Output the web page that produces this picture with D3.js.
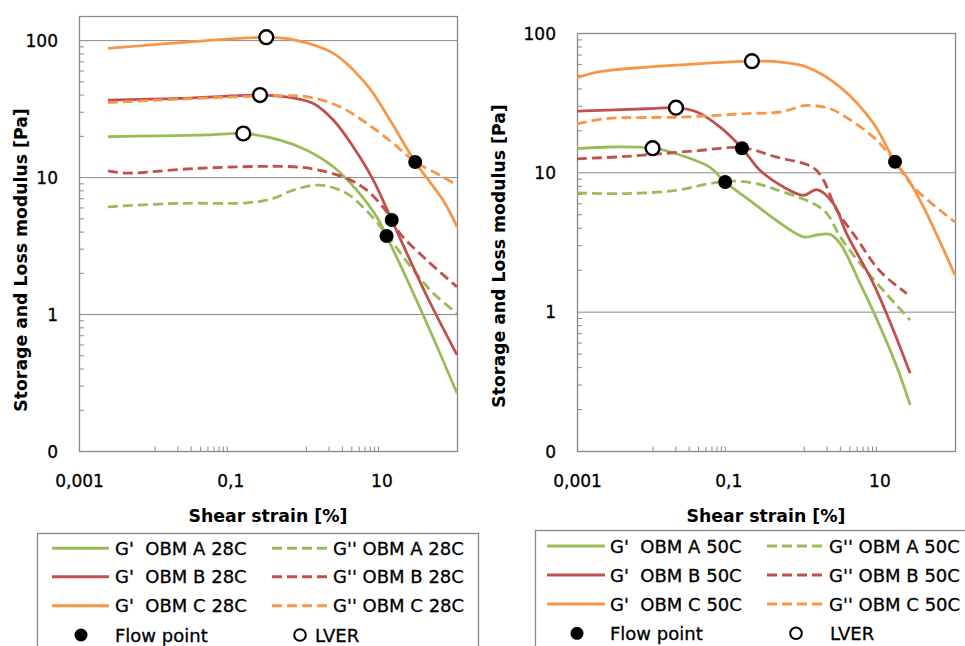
<!DOCTYPE html>
<html>
<head>
<meta charset="utf-8">
<script src="https://cdn.jsdelivr.net/npm/d3@7"></script>
<style>
  body { margin: 0; background: #fff; }
  svg { display: block; font-family: 'DejaVu Sans', sans-serif; }
  text { white-space: pre; }
  .lbl { stroke: #000; stroke-width: 0.3px; }
</style>
</head>
<body>
<svg id="chart" width="965" height="646"></svg>
<script>
// ---- axis ticks ----
const strainTicks = [0.001, 0.1, 10];
const strainTickLabels = ["0,001", "0,1", "10"];
const strainMinorTicks = [0.01, 0.02, 0.03, 0.04, 0.05, 0.06, 0.07, 0.08, 0.09, 1, 2, 3, 4, 5, 6, 7, 8, 9];
const modulusTicks = [0.1, 1, 10, 100];
const modulusTickLabels = ["0", "1", "10", "100"];
const modulusGridTicks = [1, 10, 100];
const modulusMinorTicks = [0.2, 0.3, 0.4, 0.5, 0.6, 0.7, 0.8, 0.9, 2, 3, 4, 5, 6, 7, 8, 9, 20, 30, 40, 50, 60, 70, 80, 90];

// ---- 28 C amplitude sweeps: [shear strain %, modulus Pa] ----
const storageA28 = [[0.00242, 19.7], [0.01, 20.0], [0.05, 20.3], [0.149, 20.8], [0.456, 18.6], [1.03, 15.7], [2.31, 11.9], [4.71, 8.04], [8.67, 5.13], [11.7, 3.71], [35.2, 1.0], [100, 0.264]];
const lossA28 = [[0.00242, 6.07], [0.0217, 6.43], [0.165, 6.49], [0.372, 6.99], [0.684, 8.04], [1.54, 8.74], [3.47, 7.6], [6.39, 5.65], [10.6, 4.10], [14.4, 3.28], [26.4, 2.10], [48.6, 1.42], [100, 1.01]];
const storageB28 = [[0.00242, 36.5], [0.0217, 37.5], [0.248, 39.7], [0.618, 38.2], [1.26, 34.5], [2.31, 26.1], [4.25, 16.6], [7.82, 9.51], [13.7, 4.86], [39.7, 1.36], [100, 0.503]];
const lossB28 = [[0.00242, 11.1], [0.00405, 10.7], [0.0398, 11.6], [0.684, 11.9], [1.54, 11.2], [3.47, 9.79], [6.39, 8.04], [11.7, 5.58], [17.6, 3.88], [39.7, 2.48], [100, 1.58]];
const storageC28 = [[0.00242, 86.9], [0.0398, 98.4], [0.307, 104.7], [0.678, 101], [2.29, 80.4], [6.45, 46.9], [13.0, 26.1], [28, 12.9], [65.3, 6.79], [100, 4.34]];
const lossC28 = [[0.00242, 35.0], [0.0217, 37.1], [0.298, 39.0], [1.03, 38.6], [2.83, 32.6], [6.39, 24.7], [14.4, 17.6], [28, 12.9], [59.6, 10.3], [100, 8.74]];
const flowPoints28 = [[11.7, 3.71], [13.7, 4.86], [28, 12.9]];
const lverPoints28 = [[0.149, 20.8], [0.248, 39.7], [0.30, 105]];
const seriesNames28 = ["G'  OBM A 28C", "G'' OBM A 28C", "G'  OBM B 28C", "G'' OBM B 28C", "G'  OBM C 28C", "G'' OBM C 28C"];

// ---- 50 C amplitude sweeps ----
const storageA50 = [[0.001, 14.8], [0.0027, 15.2], [0.01, 14.9], [0.0206, 13.6], [0.0567, 10.9], [0.0912, 8.52], [0.192, 6.30], [0.430, 4.53], [0.989, 3.44], [1.5, 3.55], [2.23, 3.59], [3.03, 3.08], [5.56, 1.59], [8.33, 1.0], [17.0, 0.402], [25.5, 0.214]];
const lossA50 = [[0.001, 7.11], [0.00449, 7.04], [0.0206, 7.43], [0.0567, 8.30], [0.115, 8.66], [0.234, 8.30], [0.430, 7.52], [1.34, 5.97], [2.02, 5.06], [3.03, 3.44], [5.56, 2.22], [10.2, 1.51], [25.5, 0.869]];
const storageB50 = [[0.001, 27.5], [0.00841, 28.6], [0.0204, 29.1], [0.0385, 27.1], [0.0783, 21.1], [0.152, 14.9], [0.265, 10.3], [0.538, 7.85], [0.989, 6.84], [1.49, 7.52], [2.47, 5.97], [3.71, 3.6], [8.33, 1.59], [15.3, 0.736], [25.5, 0.361]];
const lossB50 = [[0.001, 12.5], [0.00449, 13.0], [0.0341, 14.2], [0.152, 15.0], [0.430, 12.9], [1.34, 10.8], [1.82, 8.8], [2.74, 5.34], [5.02, 3.35], [10.2, 1.95], [23.0, 1.35]];
const storageC50 = [[0.001, 47.7], [0.00184, 52.4], [0.00841, 56.9], [0.0385, 60.1], [0.206, 62.8], [0.486, 61.8], [1.10, 56.9], [3.03, 40.9], [8.33, 22.5], [16.1, 11.9], [23.0, 9.25], [38.2, 5.64], [100, 1.83]];
const lossC50 = [[0.001, 22.3], [0.00249, 24.3], [0.0232, 24.9], [0.177, 26.4], [0.486, 27.1], [1.10, 30.2], [2.23, 28.6], [3.03, 26.4], [8.33, 17.9], [16.1, 11.9], [28.1, 7.85], [100, 4.40]];
const flowPoints50 = [[0.0912, 8.52], [0.152, 14.9], [16.1, 11.9]];
const lverPoints50 = [[0.01, 14.9], [0.0204, 29.1], [0.206, 62.8]];
const seriesNames50 = ["G'  OBM A 50C", "G'' OBM A 50C", "G'  OBM B 50C", "G'' OBM B 50C", "G'  OBM C 50C", "G'' OBM C 50C"];

const markerNames = ["Flow point", "LVER"];
const xTitle = "Shear strain [%]";
const yTitle = "Storage and Loss modulus [Pa]";

// ---- styling ----
const mudColors = ["#9BBB59", "#C0504D", "#F79646"];
const axisGray = "#898989";
const dashPattern = "10,5";

const svg = d3.select("#chart");

function drawPanel(cfg) {
  const g = svg.append("g");
  const x = d3.scaleLog().domain([0.001, 100]).range([cfg.x0, cfg.x1]);
  const y = d3.scaleLog().domain([0.1, cfg.yMax]).range([cfg.y0, cfg.y1]);
  const w = cfg.x1 - cfg.x0;

  // major gridlines
  g.append("g")
    .attr("transform", `translate(${cfg.x0},0)`)
    .call(d3.axisLeft(y).tickValues(modulusGridTicks).tickSize(-w).tickFormat(""))
    .call(a => { a.select(".domain").remove(); a.selectAll("line").attr("stroke", axisGray); });

  // minor ticks (inside)
  g.append("g")
    .attr("transform", `translate(${cfg.x0},0)`)
    .call(d3.axisLeft(y).tickValues(modulusMinorTicks.filter(v => v < cfg.yMax)).tickSize(-5).tickFormat(""))
    .call(a => { a.select(".domain").remove(); a.selectAll("line").attr("stroke", axisGray); });
  g.append("g")
    .attr("transform", `translate(0,${cfg.y0})`)
    .call(d3.axisBottom(x).tickValues(strainMinorTicks).tickSize(-4.5).tickFormat(""))
    .call(a => { a.select(".domain").remove(); a.selectAll("line").attr("stroke", axisGray); });

  // plot frame
  g.append("rect")
    .attr("x", cfg.x0 + 0.5).attr("y", cfg.y1 + 0.5)
    .attr("width", w).attr("height", cfg.y0 - cfg.y1)
    .attr("fill", "none").attr("stroke", axisGray).attr("stroke-width", 1.3);

  // tick labels
  g.append("g")
    .attr("transform", `translate(${cfg.x0},0)`)
    .call(d3.axisLeft(y).tickValues(modulusTicks).tickSize(0).tickPadding(21)
      .tickFormat((d, i) => modulusTickLabels[i]))
    .call(a => {
      a.select(".domain").remove();
      a.selectAll("text").attr("class", "lbl").attr("font-family", "'DejaVu Sans', sans-serif").attr("font-size", 17).attr("fill", "#000").attr("dy", "0.36em");
    });
  g.append("g")
    .attr("transform", `translate(0,${cfg.y0})`)
    .call(d3.axisBottom(x).tickValues(strainTicks).tickSize(0).tickPadding(23.6)
      .tickFormat((d, i) => strainTickLabels[i]))
    .call(a => {
      a.select(".domain").remove();
      a.selectAll("text").attr("class", "lbl").attr("font-family", "'DejaVu Sans', sans-serif").attr("font-size", 17).attr("fill", "#000");
    });

  // axis titles
  g.append("text")
    .attr("x", (cfg.x0 + cfg.x1) / 2).attr("y", 522)
    .attr("text-anchor", "middle").attr("font-weight", "bold").attr("font-size", 17.3)
    .text(xTitle);
  g.append("text")
    .attr("transform", `translate(${cfg.yTitleX},${cfg.yTitleY}) rotate(-90)`)
    .attr("text-anchor", "middle").attr("font-weight", "bold").attr("font-size", 17.3)
    .text(yTitle);

  // series lines
  const clipId = "clip-" + cfg.id;
  g.append("clipPath").attr("id", clipId)
    .append("rect").attr("x", cfg.x0).attr("y", cfg.y1).attr("width", w + 1).attr("height", cfg.y0 - cfg.y1);
  const line = d3.line()
    .x(d => x(d[0])).y(d => y(d[1]))
    .curve(d3.curveCatmullRom.alpha(0.5));
  g.append("g").attr("clip-path", `url(#${clipId})`)
    .selectAll("path").data(cfg.series).join("path")
    .attr("d", s => line(s.data))
    .attr("fill", "none")
    .attr("stroke", s => s.color)
    .attr("stroke-width", 2.8)
    .attr("stroke-dasharray", s => s.dashed ? dashPattern : null);

  // flow points and LVER markers
  g.append("g").selectAll("circle").data(cfg.flow).join("circle")
    .attr("cx", d => x(d[0])).attr("cy", d => y(d[1])).attr("r", 7)
    .attr("fill", "#000");
  g.append("g").selectAll("circle").data(cfg.lver).join("circle")
    .attr("cx", d => x(d[0])).attr("cy", d => y(d[1])).attr("r", 6.9)
    .attr("fill", "#fff").attr("stroke", "#000").attr("stroke-width", 2.4);

  // legend
  const L = cfg.legend;
  const lg = g.append("g");
  lg.append("rect")
    .attr("x", L.x).attr("y", L.y).attr("width", L.w).attr("height", 200)
    .attr("fill", "#fff").attr("stroke", axisGray).attr("stroke-width", 1.3);
  cfg.series.forEach((s, i) => {
    const col = i % 2, row = Math.floor(i / 2);
    const lx = col === 0 ? L.col1Line : L.col2Line;
    const ry = L.rowY[row];
    lg.append("line")
      .attr("x1", lx[0]).attr("x2", lx[1]).attr("y1", ry).attr("y2", ry)
      .attr("stroke", s.color).attr("stroke-width", 3)
      .attr("stroke-dasharray", s.dashed ? dashPattern : null);
    lg.append("text").attr("class", "lbl")
      .attr("x", L.textX[col]).attr("y", ry + 6.5)
      .attr("font-size", 18).attr("fill", "#000")
      .text(s.name);
  });
  lg.append("circle").attr("cx", L.flowX).attr("cy", L.markerY).attr("r", 6.5).attr("fill", "#000");
  lg.append("text").attr("class", "lbl").attr("x", L.flowTextX).attr("y", L.markerY + 6.5).attr("font-size", 18).text(markerNames[0]);
  lg.append("circle").attr("cx", L.lverX).attr("cy", L.markerY).attr("r", 5.8)
    .attr("fill", "#fff").attr("stroke", "#000").attr("stroke-width", 2);
  lg.append("text").attr("class", "lbl").attr("x", L.lverTextX).attr("y", L.markerY + 6.5).attr("font-size", 18).text(markerNames[1]);
}

function buildSeries(names, lists) {
  return lists.map((data, i) => ({
    name: names[i],
    data: data,
    color: mudColors[Math.floor(i / 2)],
    dashed: i % 2 === 1
  }));
}

drawPanel({
  id: "c28",
  x0: 79, x1: 457, y0: 451, y1: 16, yMax: 150,
  yTitleX: 27, yTitleY: 260,
  series: buildSeries(seriesNames28, [storageA28, lossA28, storageB28, lossB28, storageC28, lossC28]),
  flow: flowPoints28, lver: lverPoints28,
  legend: {
    x: 37.5, y: 533.5, w: 441,
    col1Line: [52, 109], col2Line: [272, 327], textX: [115, 333],
    rowY: [548.3, 576.7, 605.7], markerY: 635,
    flowX: 81, flowTextX: 115, lverX: 300, lverTextX: 315
  }
});

drawPanel({
  id: "c50",
  x0: 577, x1: 955, y0: 451, y1: 33, yMax: 100,
  yTitleX: 505, yTitleY: 256,
  series: buildSeries(seriesNames50, [storageA50, lossA50, storageB50, lossB50, storageC50, lossC50]),
  flow: flowPoints50, lver: lverPoints50,
  legend: {
    x: 535.5, y: 530.5, w: 440,
    col1Line: [547, 605], col2Line: [767, 823], textX: [610, 829],
    rowY: [546, 575, 604], markerY: 633.3,
    flowX: 577, flowTextX: 610, lverX: 796, lverTextX: 830
  }
});
</script>
</body>
</html>
